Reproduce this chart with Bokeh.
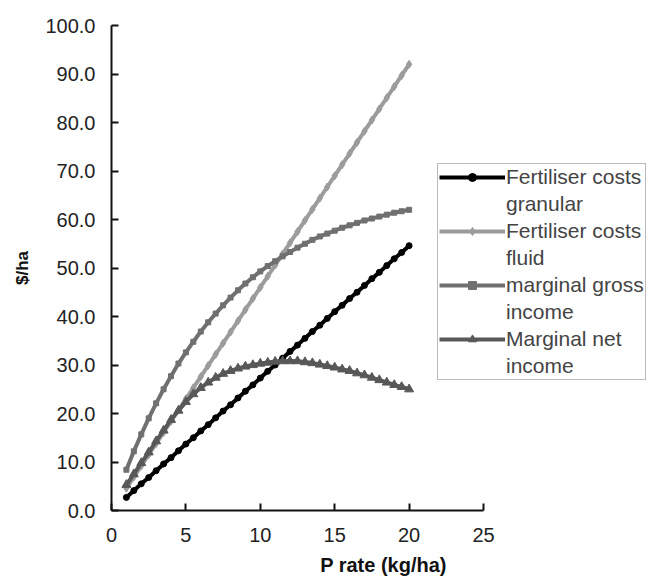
from bokeh.plotting import figure
from bokeh.models import Range1d, FixedTicker, PrintfTickFormatter, Legend, LegendItem
from bokeh.embed import file_html
from bokeh.resources import INLINE

p_rate = [1, 1.5, 2, 2.5, 3, 3.5, 4, 4.5, 5, 5.5, 6, 6.5, 7, 7.5, 8, 8.5, 9, 9.5, 10,
          10.5, 11, 11.5, 12, 12.5, 13, 13.5, 14, 14.5, 15, 15.5, 16, 16.5, 17, 17.5,
          18, 18.5, 19, 19.5, 20]
cost_granular = [2.7, 4.1, 5.5, 6.8, 8.2, 9.6, 10.9, 12.3, 13.7, 15.0, 16.4, 17.7, 19.1,
                 20.5, 21.8, 23.2, 24.6, 25.9, 27.3, 28.7, 30.0, 31.4, 32.8, 34.1, 35.5,
                 36.9, 38.2, 39.6, 41.0, 42.3, 43.7, 45.0, 46.4, 47.8, 49.1, 50.5, 51.9,
                 53.2, 54.6]
cost_fluid = [4.6, 6.9, 9.2, 11.5, 13.8, 16.1, 18.4, 20.7, 23.0, 25.3, 27.6, 29.9, 32.2,
              34.5, 36.8, 39.1, 41.4, 43.7, 46.0, 48.3, 50.6, 52.9, 55.2, 57.5, 59.8,
              62.1, 64.4, 66.7, 69.0, 71.3, 73.6, 75.9, 78.2, 80.5, 82.8, 85.1, 87.4,
              89.7, 92.0]
gross_income = [8.4, 12.2, 15.7, 19.0, 22.1, 25.0, 27.7, 30.3, 32.6, 34.8, 36.9, 38.8,
                40.6, 42.3, 43.9, 45.4, 46.8, 48.1, 49.3, 50.4, 51.4, 52.4, 53.3, 54.2,
                55.0, 55.8, 56.5, 57.1, 57.7, 58.3, 58.8, 59.3, 59.8, 60.2, 60.6, 61.0,
                61.4, 61.7, 62.0]
net_income = [5.3, 7.5, 9.8, 12.0, 14.3, 16.5, 18.7, 20.6, 22.4, 24.0, 25.3, 26.4, 27.4,
              28.2, 28.8, 29.3, 29.7, 30.0, 30.3, 30.5, 30.7, 30.8, 30.8, 30.8, 30.6,
              30.4, 30.1, 29.8, 29.5, 29.1, 28.8, 28.3, 27.9, 27.4, 26.9, 26.4, 25.9,
              25.5, 25.0]

label_lines = [("Fertiliser costs", "granular"), ("Fertiliser costs", "fluid"),
               ("marginal gross", "income"), ("Marginal net", "income")]
x_ticks = [0, 5, 10, 15, 20, 25]
y_ticks = [0, 10, 20, 30, 40, 50, 60, 70, 80, 90, 100]

FONT = "Liberation Sans"

p = figure(width=661, height=584, output_backend="svg", toolbar_location=None,
           x_range=Range1d(0, 25 * 544 / 372), y_range=Range1d(0, 100),
           min_border_left=111, min_border_right=6, min_border_top=25, min_border_bottom=74)
p.outline_line_color = None
p.grid.grid_line_color = None
p.background_fill_color = "white"
p.border_fill_color = "white"

for ax in (p.xaxis[0], p.yaxis[0]):
    ax.axis_line_width = 2
    ax.axis_line_color = "#111111"
    ax.major_tick_line_color = "#111111"
    ax.major_tick_line_width = 2
    ax.major_tick_in = 7
    ax.major_tick_out = 0
    ax.minor_tick_line_color = None
    ax.major_label_text_font = FONT
    ax.major_label_text_font_size = "20px"
    ax.major_label_text_color = "#222222"
    ax.axis_label_text_font = FONT
    ax.axis_label_text_font_style = "bold"
    ax.axis_label_text_color = "#111111"

p.xaxis[0].bounds = (0, 25)
p.xaxis[0].ticker = FixedTicker(ticks=x_ticks)
p.xaxis[0].axis_label = "P rate (kg/ha)"
p.xaxis[0].axis_label_text_font_size = "20px"
p.xaxis[0].major_label_standoff = 17
p.xaxis[0].axis_label_standoff = 9

p.yaxis[0].ticker = FixedTicker(ticks=y_ticks)
p.yaxis[0].formatter = PrintfTickFormatter(format="%.1f")
p.yaxis[0].axis_label = "$/ha"
p.yaxis[0].axis_label_text_font_size = "17px"
p.yaxis[0].major_label_standoff = 16
p.yaxis[0].axis_label_standoff = 10

series = [
    (cost_granular, "#000000", "circle", 6),
    (cost_fluid, "#9c9c9c", "diamond", 8),
    (gross_income, "#707070", "square", 5),
    (net_income, "#585858", "triangle", 9),
]
items = []
for (vals, col, mk, sz), (l1, l2) in zip(series, label_lines):
    r1 = p.line(p_rate, vals, line_color=col, line_width=4)
    r2 = p.scatter(p_rate, vals, marker=mk, size=sz, fill_color=col, line_color=col)
    items.append(LegendItem(label=l1, renderers=[r1, r2]))
    items.append(LegendItem(label=l2, renderers=[]))

legend = Legend(items=items, location=(326, 130))
legend.label_text_font = FONT
legend.label_text_font_size = "21px"
legend.glyph_width = 66
legend.glyph_height = 20
legend.label_height = 20
legend.label_standoff = 1
legend.spacing = 3
legend.padding = 1
legend.margin = 0
legend.border_line_color = "#777777"
legend.border_line_width = 1
legend.background_fill_color = "white"
legend.background_fill_alpha = 1
p.add_layout(legend, "center")

open("out.html", "w").write(file_html(p, INLINE))
